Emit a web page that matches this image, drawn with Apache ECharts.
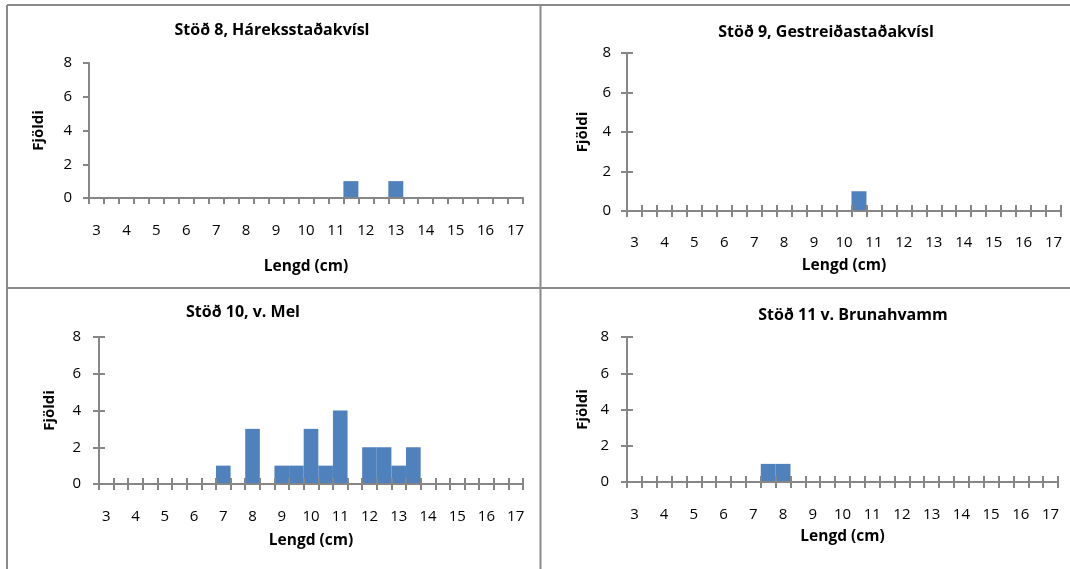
<!DOCTYPE html>
<html>
<head>
<meta charset="utf-8">
<title>Lengdardreifing</title>
<script src="https://cdn.jsdelivr.net/npm/echarts@6/dist/echarts.min.js"></script>
<style>
  html, body { margin: 0; padding: 0; background: #fff; }
  #chart { width: 1070px; height: 569px; }
</style>
</head>
<body>
<div id="chart"></div>
<script>
// Length classes (cm), half-centimetre bins
const lengthBins = ['3','3.5','4','4.5','5','5.5','6','6.5','7','7.5','8','8.5','9','9.5','10',
                    '10.5','11','11.5','12','12.5','13','13.5','14','14.5','15','15.5','16','16.5','17'];

// Number of fish per length class at each station
const countsSt8  = [0,0,0,0,0,0,0,0,0,0, 0,0,0,0,0,0,0,1,0,0, 1,0,0,0,0,0,0,0,0];
const countsSt9  = [0,0,0,0,0,0,0,0,0,0, 0,0,0,0,0,1,0,0,0,0, 0,0,0,0,0,0,0,0,0];
const countsSt10 = [0,0,0,0,0,0,0,0,1,0, 3,0,1,1,3,1,4,0,2,2, 1,2,0,0,0,0,0,0,0];
const countsSt11 = [0,0,0,0,0,0,0,0,0,1, 1,0,0,0,0,0,0,0,0,0, 0,0,0,0,0,0,0,0,0];

const stationTitles = ['Stöð 8, Háreksstaðakvísl', 'Stöð 9, Gestreiðastaðakvísl',
                       'Stöð 10, v. Mel', 'Stöð 11 v. Brunahvamm'];
const yRange = { min: 0, max: 8, interval: 2 };
const xName = 'Lengd (cm)';
const yName = 'Fjöldi';

// Panel geometry (plot area, label gaps, title anchor)
const panels = [
  { data: countsSt8,  left: 89,  top: 63,  width: 434, height: 135, crossTicks: false,
    xLabelGap: 25, yLabelGap: 17, xNameGap: 61, yNameGap: 43, titleX: 272, titleY: 30.5 },
  { data: countsSt9,  left: 627, top: 53,  width: 434, height: 158, crossTicks: true,
    xLabelGap: 24, yLabelGap: 16, xNameGap: 47, yNameGap: 37, titleX: 826, titleY: 32 },
  { data: countsSt10, left: 99,  top: 337, width: 424, height: 147, crossTicks: true,
    xLabelGap: 25, yLabelGap: 18, xNameGap: 49, yNameGap: 42, titleX: 243, titleY: 312 },
  { data: countsSt11, left: 627, top: 337, width: 431, height: 145, crossTicks: true,
    xLabelGap: 25, yLabelGap: 18, xNameGap: 47, yNameGap: 37, titleX: 853, titleY: 315 }
];

const FONT = '"Open Sans", "Liberation Sans", sans-serif';
const AXIS_GRAY = '#868686';
const BAR_BLUE = '#4F81BD';
const FRAME_GRAY = '#8a8a8a';

const grid = [], xAxis = [], yAxis = [], series = [], graphic = [];

panels.forEach((p, i) => {
  grid.push({ left: p.left, top: p.top, width: p.width, height: p.height, containLabel: false });

  const mainX = xAxis.length;
  xAxis.push({
    type: 'category', gridIndex: i, data: lengthBins, position: 'bottom', z: 3,
    boundaryGap: true,
    axisLine: { lineStyle: { color: AXIS_GRAY, width: 2 } },
    axisTick: { show: true, interval: 0, alignWithLabel: false, length: 6,
                lineStyle: { color: AXIS_GRAY, width: 2 } },
    axisLabel: { interval: 1, margin: p.xLabelGap, color: '#000', fontSize: 15, fontFamily: FONT },
    splitLine: { show: false },
    name: xName, nameLocation: 'middle', nameGap: p.xNameGap,
    nameTextStyle: { color: '#000', fontSize: 15.5, fontWeight: 'bold', fontFamily: FONT }
  });
  if (p.crossTicks) {
    xAxis.push({
      type: 'category', gridIndex: i, data: lengthBins, position: 'bottom', z: 3,
      boundaryGap: true,
      axisLine: { show: false },
      axisTick: { show: true, inside: true, interval: 0, alignWithLabel: false, length: 6,
                  lineStyle: { color: AXIS_GRAY, width: 2 } },
      axisLabel: { show: false }, splitLine: { show: false }
    });
  }

  const mainY = yAxis.length;
  yAxis.push({
    type: 'value', gridIndex: i, position: 'left', z: 3,
    min: yRange.min, max: yRange.max, interval: yRange.interval,
    axisLine: { show: true, lineStyle: { color: AXIS_GRAY, width: 2 } },
    axisTick: { show: true, length: 6, lineStyle: { color: AXIS_GRAY, width: 2 } },
    axisLabel: { margin: p.yLabelGap, color: '#000', fontSize: 15, fontFamily: FONT },
    splitLine: { show: false },
    name: yName, nameLocation: 'middle', nameGap: p.yNameGap, nameRotate: 90,
    nameTextStyle: { color: '#000', fontSize: 15, fontWeight: 'bold', fontFamily: FONT }
  });
  if (p.crossTicks) {
    yAxis.push({
      type: 'value', gridIndex: i, position: 'left', z: 3,
      min: yRange.min, max: yRange.max, interval: yRange.interval,
      axisLine: { show: false },
      axisTick: { show: true, inside: true, length: 6, lineStyle: { color: AXIS_GRAY, width: 2 } },
      axisLabel: { show: false }, splitLine: { show: false }
    });
  }

  series.push({
    type: 'bar', xAxisIndex: mainX, yAxisIndex: mainY, data: p.data,
    barCategoryGap: 0, barGap: 0, z: 2,
    itemStyle: { color: BAR_BLUE },
    emphasis: { disabled: true }
  });

  graphic.push({
    type: 'text', x: p.titleX, y: p.titleY,
    style: { text: stationTitles[i], fill: '#000', font: 'bold 16px ' + FONT,
             textAlign: 'center', textVerticalAlign: 'middle' }
  });
});

// Frame lines separating the four panels
const frame = [
  [7, 5, 1070, 5], [7, 5, 7, 569], [540.5, 5, 540.5, 569], [7, 288, 1070, 288]
];
frame.forEach(([x1, y1, x2, y2]) => {
  graphic.push({ type: 'line', shape: { x1, y1, x2, y2 },
                 style: { stroke: FRAME_GRAY, lineWidth: 2 }, z: 10 });
});

const chart = echarts.init(document.getElementById('chart'), null, { renderer: 'canvas' });
chart.setOption({
  animation: false,
  backgroundColor: '#fff',
  grid, xAxis, yAxis, series, graphic
});
</script>
</body>
</html>
